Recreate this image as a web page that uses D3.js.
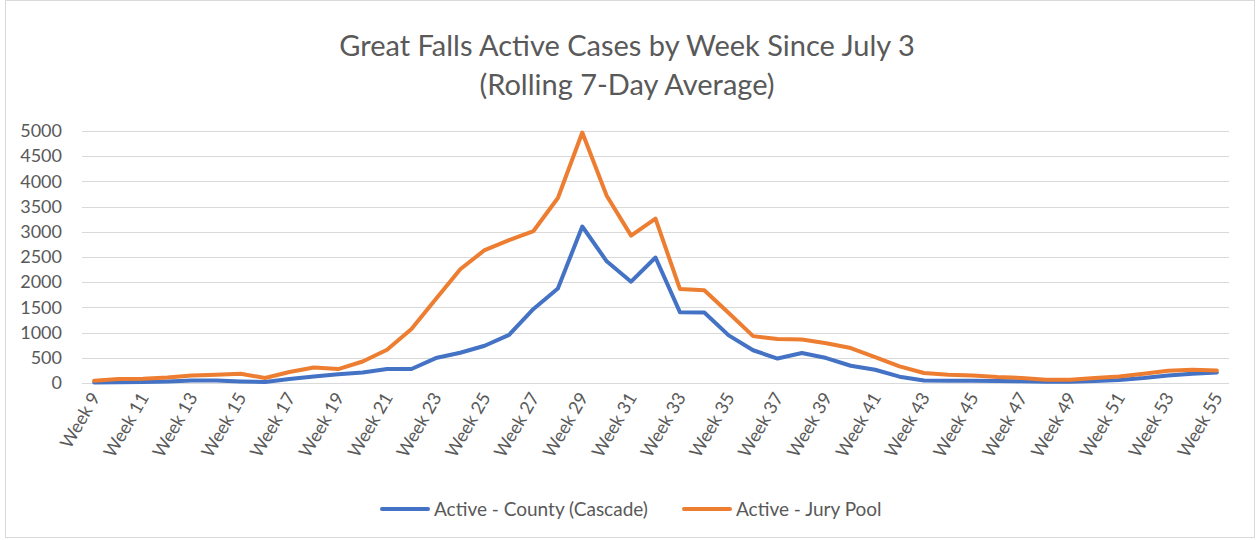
<!DOCTYPE html>
<html>
<head>
<meta charset="utf-8">
<script src="https://cdn.jsdelivr.net/npm/d3@7"></script>
<style>
  body { margin: 0; background: #fff; }
  text { font-family: Lato, "Open Sans", sans-serif; fill: #595959; }
</style>
</head>
<body>
<div id="chart"></div>
<script>
// weeks since July 3
var weeks = d3.range(9, 56).map(function (w) { return "Week " + w; });

// Active - County (Cascade)
var countyValues = [12, 15, 20, 32, 52, 52, 32, 18, 79, 131, 175, 210, 277, 277, 495, 600,
    740, 956, 1470, 1875, 3105, 2415, 2010, 2490, 1405, 1400, 945, 650, 485, 594, 495, 342,
    263, 125, 50, 45, 45, 40, 35, 25, 25, 40, 60, 99, 150, 184, 210];

// Active - Jury Pool
var juryValues = [46, 79, 85, 111, 151, 164, 184, 99, 217, 309, 277, 427, 659, 1070, 1665, 2256,
    2638, 2836, 3015, 3670, 4970, 3715, 2925, 3260, 1866, 1840, 1390, 930, 871, 865, 790, 693,
    514, 330, 198, 164, 151, 119, 99, 65, 65, 99, 131, 184, 243, 263, 250];

var yTicks = [0, 500, 1000, 1500, 2000, 2500, 3000, 3500, 4000, 4500, 5000];

var seriesNames = ["Active - County (Cascade)", "Active - Jury Pool"];
var seriesColors = ["#4472C4", "#ED7D31"];

var W = 1256, H = 540;
var margin = { top: 131, right: 27, bottom: 157, left: 82 },
    width = W - margin.left - margin.right,
    height = H - margin.top - margin.bottom;

var svgRoot = d3.select("#chart").append("svg")
    .attr("width", W)
    .attr("height", H);

// chart border
svgRoot.append("rect")
    .attr("x", 5.5).attr("y", 0.5)
    .attr("width", 1249).attr("height", 537)
    .attr("fill", "none")
    .attr("stroke", "#d9d9d9");

// title
var title = svgRoot.append("text")
    .attr("text-anchor", "middle")
    .style("font-size", "29px");
title.append("tspan").attr("x", 627).attr("y", 56).text("Great Falls Active Cases by Week Since July 3");
title.append("tspan").attr("x", 627).attr("y", 95).text("(Rolling 7-Day Average)");

var svg = svgRoot.append("g")
    .attr("transform", "translate(" + margin.left + "," + margin.top + ")");

var x = d3.scaleBand()
    .domain(weeks)
    .range([0, width]);

var y = d3.scaleLinear()
    .domain([0, 5000])
    .range([height, 0]);

// gridlines
svg.append("g")
    .selectAll("line")
    .data(yTicks)
    .enter()
    .append("line")
    .attr("x1", 0).attr("x2", width)
    .attr("y1", function (d) { return Math.round(y(d)) + 0.5; })
    .attr("y2", function (d) { return Math.round(y(d)) + 0.5; })
    .attr("stroke", "#d9d9d9")
    .attr("stroke-width", 1);

// Y axis labels
var yAxis = svg.append("g")
    .call(d3.axisLeft(y).tickValues(yTicks).tickFormat(d3.format("d")).tickSize(0).tickPadding(20));
yAxis.select(".domain").remove();
yAxis.selectAll("text")
    .style("font-size", "18px")
    .style("font-family", "Lato, sans-serif")
    .attr("fill", "#595959");

// X axis labels, every other week
var xAxis = svg.append("g")
    .attr("transform", "translate(0," + height + ")")
    .call(d3.axisBottom(x)
        .tickValues(weeks.filter(function (d, i) { return i % 2 === 0; }))
        .tickSize(0));
xAxis.select(".domain").remove();
xAxis.selectAll("text")
    .style("font-size", "18px")
    .style("font-family", "Lato, sans-serif")
    .attr("fill", "#595959")
    .attr("text-anchor", "end")
    .attr("dy", "0.35em")
    .attr("transform", "translate(1,11) rotate(-60)")
    .attr("y", 0)
    .attr("x", 0);

// lines
var line = d3.line()
    .x(function (d, i) { return x(weeks[i]) + x.bandwidth() / 2; })
    .y(function (d) { return y(d); });

[countyValues, juryValues].forEach(function (vals, k) {
    svg.append("path")
        .datum(vals)
        .attr("fill", "none")
        .attr("stroke", seriesColors[k])
        .attr("stroke-width", 4)
        .attr("stroke-linejoin", "round")
        .attr("stroke-linecap", "round")
        .attr("d", line);
});

// legend
var legendX = [382, 684];
var legend = svgRoot.selectAll(".legend")
    .data(seriesNames)
    .enter()
    .append("g")
    .attr("class", "legend")
    .attr("transform", function (d, i) { return "translate(" + legendX[i] + ",509)"; });

legend.append("line")
    .attr("x1", 0).attr("x2", 46)
    .attr("y1", 0).attr("y2", 0)
    .attr("stroke", function (d, i) { return seriesColors[i]; })
    .attr("stroke-width", 4)
    .attr("stroke-linecap", "round");

legend.append("text")
    .attr("x", 52)
    .attr("dy", "0.35em")
    .style("font-size", "19px")
    .text(function (d) { return d; });
</script>
</body>
</html>
